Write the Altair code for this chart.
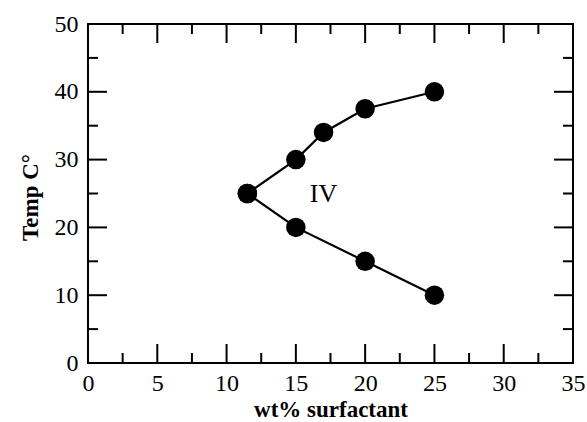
import altair as alt
import pandas as pd

# data
upper_x = [11.5, 15, 17, 20, 25]
upper_y = [25, 30, 34, 37.5, 40]
lower_x = [11.5, 15, 20, 25]
lower_y = [25, 20, 15, 10]

x_major = [0, 5, 10, 15, 20, 25, 30, 35]
x_minor = [2.5, 7.5, 12.5, 17.5, 22.5, 27.5, 32.5]
y_major = [0, 10, 20, 30, 40, 50]
y_minor = [5, 15, 25, 35, 45]

label_text = ["IV"]
label_x = [17]
label_y = [25]

W, H = 485, 339
FONT = "Liberation Serif"

rows = []
for i, (x, y) in enumerate(zip(upper_x, upper_y)):
    rows.append({"x": x, "y": y, "branch": "upper", "order": i})
for i, (x, y) in enumerate(zip(lower_x, lower_y)):
    rows.append({"x": x, "y": y, "branch": "lower", "order": i})
df = pd.DataFrame(rows)

xs = alt.Scale(domain=[0, 35], nice=False, zero=False)
ys = alt.Scale(domain=[0, 50], nice=False, zero=False)

axis_common = dict(ticks=False, tickSize=0, domain=False, grid=False,
                   labelFont=FONT, labelFontSize=24, labelColor="black",
                   titleFont=FONT, titleFontSize=23, titleFontWeight="bold",
                   titleColor="black")

x_axis = alt.Axis(values=x_major, title="wt% surfactant",
                  labelPadding=8, titleBaseline="alphabetic",
                  titleX=W / 2, titleY=53, labelFlush=False, **axis_common)
y_axis = alt.Axis(values=y_major, title="Temp C°",
                  labelPadding=10, titleBaseline="alphabetic",
                  titleAngle=-90, titleX=-51, titleY=173,
                  labelFlush=False, **axis_common)


def X():
    return alt.X("x:Q", scale=xs, axis=x_axis)


def Y():
    return alt.Y("y:Q", scale=ys, axis=y_axis)


lines = alt.Chart(df).mark_line(color="black", strokeWidth=2.2).encode(
    x=X(), y=Y(), detail="branch:N", order="order:Q")
pts = alt.Chart(df).mark_circle(color="black", opacity=1, size=380).encode(
    x=X(), y=Y())

lab = alt.Chart(pd.DataFrame({"t": label_text, "x": label_x, "y": label_y})).mark_text(
    font=FONT, fontSize=26, color="black", align="center", baseline="middle"
).encode(x=X(), y=Y(), text="t:N")


def xticks(vals, length):
    d = pd.DataFrame({"x": vals})
    base = alt.Chart(d).mark_rule(color="black", strokeWidth=2)
    bot = base.encode(x=X(), y=alt.value(H), y2=alt.value(H - length))
    top = base.encode(x=X(), y=alt.value(0), y2=alt.value(length))
    return [bot, top]


def yticks(vals, length):
    d = pd.DataFrame({"y": vals})
    base = alt.Chart(d).mark_rule(color="black", strokeWidth=2)
    left = base.encode(y=Y(), x=alt.value(0), x2=alt.value(length))
    right = base.encode(y=Y(), x=alt.value(W), x2=alt.value(W - length))
    return [left, right]


ticks = xticks(x_major, 19) + xticks(x_minor, 10) + yticks(y_major, 19) + yticks(y_minor, 10)

chart = alt.layer(lines, pts, lab, *ticks).properties(
    width=W, height=H,
    autosize=alt.AutoSizeParams(type="none"),
    padding={"left": 88, "top": 24, "right": 14, "bottom": 59},
    background="white",
).configure_view(stroke="black", strokeWidth=2)

chart.save("out.html", embed_options={"renderer": "svg", "actions": False})
